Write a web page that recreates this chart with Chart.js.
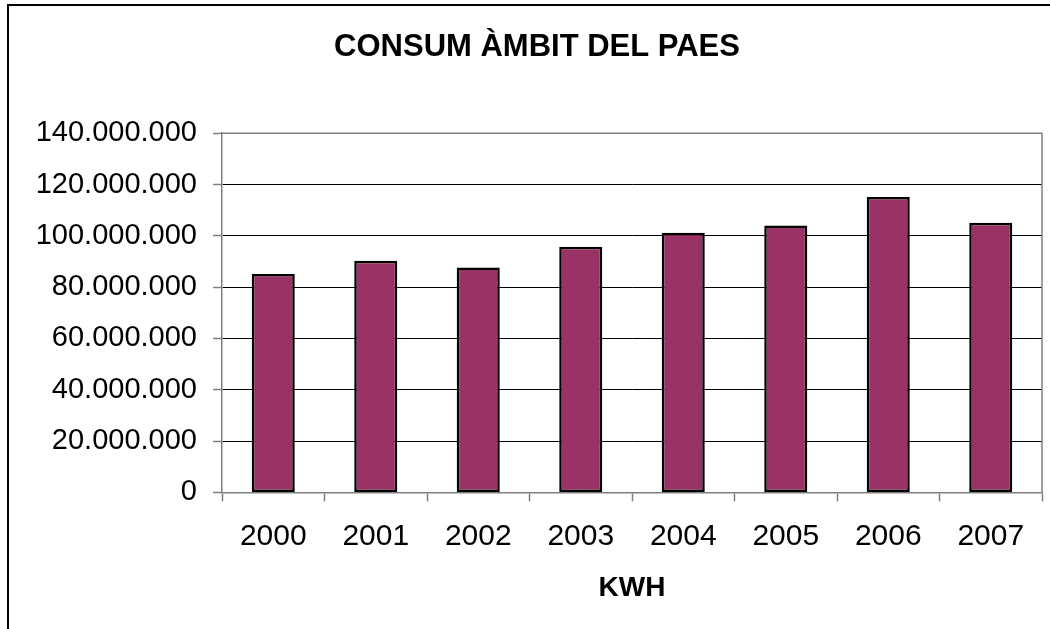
<!DOCTYPE html>
<html>
<head>
<meta charset="utf-8">
<script src="https://cdn.jsdelivr.net/npm/chart.js@4.4.0/dist/chart.umd.min.js"></script>
<style>
html,body{margin:0;padding:0;background:#fff;}
#wrap{position:absolute;left:0;top:0;width:1050px;height:629px;}
</style>
</head>
<body>
<div id="wrap"><canvas id="c" width="1050" height="629"></canvas></div>
<script>
const categories = ['2000','2001','2002','2003','2004','2005','2006','2007'];
const consumKWh = [85100000, 90300000, 87700000, 95700000, 101200000, 104000000, 115100000, 105100000];
const yTicks = [0, 20000000, 40000000, 60000000, 80000000, 100000000, 120000000, 140000000];
const chartTitle = 'CONSUM ÀMBIT DEL PAES';
const xTitle = 'KWH';

function fmt(v){ return String(Math.round(v)).replace(/\B(?=(\d{3})+(?!\d))/g, '.'); }

const FONT = '"Liberation Sans", Arial, sans-serif';

const framePlugin = {
  id: 'frame',
  beforeDraw(chart){
    const ctx = chart.ctx;
    ctx.save();
    ctx.fillStyle = '#fff';
    ctx.fillRect(0,0,chart.width,chart.height);
    ctx.strokeStyle = '#000';
    ctx.lineWidth = 2;
    ctx.beginPath();
    ctx.moveTo(8, chart.height + 2);
    ctx.lineTo(8, 5);
    ctx.lineTo(chart.width + 2, 5);
    ctx.stroke();
    ctx.restore();
  },
  afterDatasetsDraw(chart){
    const a = chart.chartArea, ctx = chart.ctx;
    ctx.save();
    ctx.strokeStyle = '#808080';
    ctx.lineWidth = 1.5;
    ctx.beginPath();
    ctx.moveTo(a.left, a.top);
    ctx.lineTo(a.right, a.top);
    ctx.lineTo(a.right, a.bottom);
    ctx.stroke();
    ctx.restore();
  }
};

new Chart(document.getElementById('c'), {
  type: 'bar',
  data: {
    labels: categories,
    datasets: [{
      data: consumKWh,
      backgroundColor: '#993366',
      borderColor: '#000',
      borderWidth: 2.5,
      borderSkipped: false,
      categoryPercentage: 1,
      barPercentage: 0.42
    }]
  },
  plugins: [framePlugin],
  options: {
    responsive: false,
    animation: false,
    devicePixelRatio: 1,
    layout: { padding: { left: 32, right: 8, top: 0, bottom: 24 } },
    plugins: {
      legend: { display: false },
      tooltip: { enabled: false },
      title: {
        display: true,
        text: chartTitle,
        color: '#000',
        font: { family: FONT, size: 31, weight: 'bold' },
        padding: { top: 29, bottom: 67 }
      }
    },
    scales: {
      x: {
        offset: true,
        grid: { offset: true, drawOnChartArea: false, drawTicks: true, tickLength: 9, tickColor: '#808080', tickWidth: 1.5 },
        border: { color: '#808080', width: 1.5 },
        ticks: { color: '#000', font: { family: FONT, size: 30 }, padding: 17, maxRotation: 0 },
        title: { display: true, text: xTitle, color: '#000', font: { family: FONT, size: 28, weight: 'bold' }, padding: { top: 0, bottom: 0 } }
      },
      y: {
        min: 0,
        max: 140000000,
        afterBuildTicks(scale){ scale.ticks = yTicks.map(v => ({ value: v })); },
        afterFit(scale){ scale.width = 190; },
        grid: {
          color: (c) => (c.tick && (c.tick.value === 0 || c.tick.value === 140000000)) ? 'rgba(0,0,0,0)' : '#000',
          lineWidth: 1,
          tickLength: 9,
          tickColor: '#808080',
          tickWidth: 1.5
        },
        border: { color: '#808080', width: 1.5 },
        ticks: { color: '#000', font: { family: FONT, size: 29 }, padding: 16, callback: (v) => fmt(v) }
      }
    }
  }
});
</script>
</body>
</html>
